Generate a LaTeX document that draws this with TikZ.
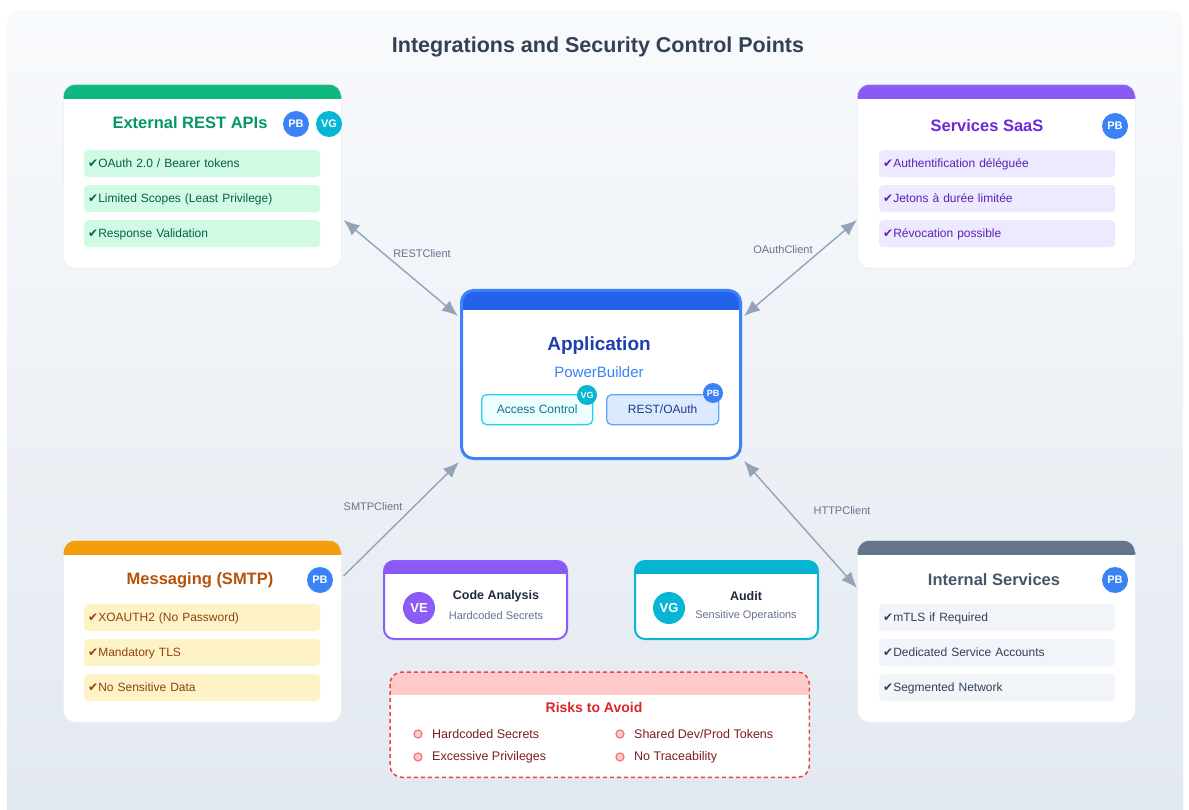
\documentclass[tikz,border=0pt]{standalone}
\usepackage{fontspec}
\setmainfont{Liberation Sans}
\newfontfamily\sym{DejaVu Sans}
\usetikzlibrary{arrows.meta,calc}

\newcommand\fsz[1]{\fontsize{#1}{#1}\selectfont}
\newcommand\tick{{\sym\fsz{12}✔}}

% palette
\definecolor{bgtop}{HTML}{F8FAFC}
\definecolor{bgbot}{HTML}{E2E8F0}
\definecolor{titlec}{HTML}{334155}
\definecolor{linkc}{HTML}{94A3B8}
\definecolor{linklbl}{HTML}{64748B}
\definecolor{pbblue}{HTML}{3B82F6}
\definecolor{vgcyan}{HTML}{06B6D4}
\definecolor{vepurple}{HTML}{8B5CF6}
\definecolor{cardrim}{HTML}{E8EDF3}
% green card
\definecolor{grA}{HTML}{10B981}
\definecolor{grB}{HTML}{059669}
\definecolor{grT}{HTML}{059669}
\definecolor{grF}{HTML}{D1FAE5}
\definecolor{grX}{HTML}{065F46}
% purple card
\definecolor{puA}{HTML}{8B5CF6}
\definecolor{puB}{HTML}{6D28D9}
\definecolor{puT}{HTML}{6D28D9}
\definecolor{puF}{HTML}{EDE9FE}
\definecolor{puX}{HTML}{5B21B6}
% orange card
\definecolor{orA}{HTML}{F59E0B}
\definecolor{orB}{HTML}{D97706}
\definecolor{orT}{HTML}{B45309}
\definecolor{orF}{HTML}{FEF3C7}
\definecolor{orX}{HTML}{92400E}
% slate card
\definecolor{slA}{HTML}{64748B}
\definecolor{slB}{HTML}{64748B}
\definecolor{slT}{HTML}{475569}
\definecolor{slF}{HTML}{F1F5F9}
\definecolor{slX}{HTML}{334155}
% application
\definecolor{apA}{HTML}{2563EB}
\definecolor{apB}{HTML}{1D4ED8}
\definecolor{apT}{HTML}{1E40AF}
\definecolor{accF}{HTML}{ECFEFF}
\definecolor{accD}{HTML}{22D3EE}
\definecolor{accT}{HTML}{0E7490}
\definecolor{roF}{HTML}{DBEAFE}
\definecolor{roD}{HTML}{60A5FA}
\definecolor{roT}{HTML}{1E3A8A}
% small tool cards
\definecolor{cyA}{HTML}{06B6D4}
\definecolor{cyB}{HTML}{0891B2}
\definecolor{vpA}{HTML}{8B5CF6}
\definecolor{vpB}{HTML}{7C3AED}
\definecolor{darkT}{HTML}{1E293B}
% risks
\definecolor{rkBorder}{HTML}{EF4444}
\definecolor{rkHead}{HTML}{FECACA}
\definecolor{rkT}{HTML}{DC2626}
\definecolor{rkX}{HTML}{7F1D1D}
\definecolor{rkDotF}{HTML}{FECACA}
\definecolor{rkDotD}{HTML}{F87171}

\begin{document}
\begin{tikzpicture}[x=1pt,y=-1pt,
  card/.style n args={3}{anchor=north west, fill=white, draw=cardrim, line width=0.6pt, rounded corners=12pt,
    minimum width=278pt, minimum height=#3, inner sep=0pt,
    path picture={\shade[sharp corners, top color=#1, bottom color=#2]
      (path picture bounding box.north west) rectangle ([yshift=-14pt]path picture bounding box.north east);}},
  cardtitle/.style={font=\fsz{16.5}\bfseries, text=#1},
  item/.style 2 args={anchor=north west, fill=#1, text=#2, rounded corners=4pt,
    minimum height=27pt, text width=228pt, inner xsep=4pt, inner ysep=0pt, align=left,
    text depth=1.5pt, font=\fsz{12}},
  badge/.style={circle, fill=#1, text=white, minimum size=26pt, inner sep=0pt, font=\fsz{11}\bfseries},
  minibadge/.style={circle, fill=#1, text=white, minimum size=20pt, inner sep=0pt, font=\fsz{9}\bfseries},
  link/.style={draw=linkc, line width=1.4pt},
  tip/.tip={Latex[length=16pt,width=13pt]},
  linklabel/.style={font=\fsz{11}, text=linklbl},
  tool/.style n args={3}{anchor=north west, fill=white, draw=#1, line width=2pt, rounded corners=10pt,
    minimum width=183pt, minimum height=78pt, inner sep=0pt,
    path picture={\shade[sharp corners, top color=#2, bottom color=#3]
      (path picture bounding box.north west) rectangle ([yshift=-12pt]path picture bounding box.north east);}},
  bigbadge/.style={circle, fill=#1, text=white, minimum size=32pt, inner sep=0pt, font=\fsz{13}\bfseries},
  riskdot/.style={circle, fill=rkDotF, draw=rkDotD, line width=1.2pt, minimum size=8pt, inner sep=0pt},
  risktext/.style={anchor=west, text=rkX, font=\fsz{12.5}, inner sep=0pt},
]
\useasboundingbox (0,0) rectangle (1189,810);

% backdrop panel
\shade[top color=bgtop, bottom color=bgbot, rounded corners=14pt] (7,10) rectangle (1183,840);

% title
\node[font=\fsz{21.5}\bfseries, text=titlec] (title) at (598,47) {Integrations and Security Control Points};

% ---------------- External REST APIs
\node[card={grA}{grB}{184pt}] (rest) at (63,84) {};
\node[cardtitle=grT] (restT) at (190,123) {External REST APIs};
\node[badge=pbblue] (restPB) at (296,124) {PB};
\node[badge=vgcyan] (restVG) at (329,124) {VG};
\node[item={grF}{grX}] (rest1) at (84,150) {\tick OAuth 2.0 / Bearer tokens};
\node[item={grF}{grX}] (rest2) at (84,185) {\tick Limited Scopes (Least Privilege)};
\node[item={grF}{grX}] (rest3) at (84,220) {\tick Response Validation};

% ---------------- Services SaaS
\node[card={puA}{puB}{184pt}] (saas) at (857,84) {};
\node[cardtitle=puT] (saasT) at (987,126) {Services SaaS};
\node[badge=pbblue] (saasPB) at (1115,126) {PB};
\node[item={puF}{puX}] (saas1) at (879,150) {\tick Authentification déléguée};
\node[item={puF}{puX}] (saas2) at (879,185) {\tick Jetons à durée limitée};
\node[item={puF}{puX}] (saas3) at (879,220) {\tick Révocation possible};

% ---------------- Messaging (SMTP)
\node[card={orA}{orB}{182pt}] (smtp) at (63,540) {};
\node[cardtitle=orT] (smtpT) at (200,580) {Messaging (SMTP)};
\node[badge=pbblue] (smtpPB) at (320,580) {PB};
\node[item={orF}{orX}] (smtp1) at (84,604) {\tick XOAUTH2 (No Password)};
\node[item={orF}{orX}] (smtp2) at (84,639) {\tick Mandatory TLS};
\node[item={orF}{orX}] (smtp3) at (84,674) {\tick No Sensitive Data};

% ---------------- Internal Services
\node[card={slA}{slB}{182pt}] (intl) at (857,540) {};
\node[cardtitle=slT] (intlT) at (994,580) {Internal Services};
\node[badge=pbblue] (intlPB) at (1115,580) {PB};
\node[item={slF}{slX}] (intl1) at (879,604) {\tick mTLS if Required};
\node[item={slF}{slX}] (intl2) at (879,639) {\tick Dedicated Service Accounts};
\node[item={slF}{slX}] (intl3) at (879,674) {\tick Segmented Network};

% ---------------- Application (centre)
\node[anchor=north west, fill=white, draw=pbblue, line width=3pt, rounded corners=12pt,
  minimum width=279pt, minimum height=168pt, inner sep=0pt,
  path picture={\shade[sharp corners, top color=apA, bottom color=apB]
    (path picture bounding box.north west) rectangle ([yshift=-19pt]path picture bounding box.north east);}]
  (app) at (460,289) {};
\node[font=\fsz{19}\bfseries, text=apT] (appT) at (599,346) {Application};
\node[font=\fsz{15}, text=pbblue] (appS) at (599,372) {PowerBuilder};
\node[anchor=north west, fill=accF, draw=accD, line width=1.3pt, rounded corners=5pt,
  minimum width=111pt, minimum height=30pt, inner sep=0pt, text=accT, font=\fsz{12}]
  (acc) at (481,394) {Access Control};
\node[minibadge=vgcyan] (accVG) at (587,395) {VG};
\node[anchor=north west, fill=roF, draw=roD, line width=1.3pt, rounded corners=5pt,
  minimum width=112pt, minimum height=30pt, inner sep=0pt, text=roT, font=\fsz{12}]
  (ro) at (606,394) {REST/OAuth};
\node[minibadge=pbblue] (roPB) at (713,393) {PB};

% ---------------- tool cards
\node[tool={vepurple}{vpA}{vpB}] (code) at (383,560) {};
\node[bigbadge=vepurple] (codeB) at (419,608) {VE};
\node[font=\fsz{12.5}\bfseries, text=darkT] (codeT) at (496,596) {Code Analysis};
\node[font=\fsz{11}, text=linklbl] (codeS) at (496,616) {Hardcoded Secrets};

\node[tool={vgcyan}{cyA}{cyB}] (audit) at (634,560) {};
\node[bigbadge=vgcyan] (auditB) at (669,608) {VG};
\node[font=\fsz{12.5}\bfseries, text=darkT] (auditT) at (746,596) {Audit};
\node[font=\fsz{11}, text=linklbl] (auditS) at (746,616) {Sensitive Operations};

% ---------------- risks
\node[anchor=north west, fill=white, minimum width=419pt, minimum height=105pt, inner sep=0pt,
  rounded corners=12pt,
  path picture={\fill[sharp corners, rkHead]
    (path picture bounding box.north west) rectangle ([yshift=-23pt]path picture bounding box.north east);}]
  (risk) at (390,672) {};
\draw[rkBorder, line width=1.5pt, dash pattern=on 4pt off 3pt, rounded corners=12pt]
  (risk.north west) rectangle (risk.south east);
\node[font=\fsz{14}\bfseries, text=rkT] (riskT) at (594,707) {Risks to Avoid};
\node[riskdot] (rd1) at (418,734) {};
\node[risktext] (rt1) at (432,734) {Hardcoded Secrets};
\node[riskdot] (rd2) at (418,757) {};
\node[risktext] (rt2) at (432,757) {Excessive Privileges};
\node[riskdot] (rd3) at (620,734) {};
\node[risktext] (rt3) at (634,734) {Shared Dev/Prod Tokens};
\node[riskdot] (rd4) at (620,757) {};
\node[risktext] (rt4) at (634,757) {No Traceability};

% ---------------- connectors
\coordinate (restEnd) at ($(rest.north east)+(2,136)$);
\coordinate (appNW)  at ($(app.north west)+(-2,27)$);
\coordinate (saasEnd) at ($(saas.north west)+(0,136)$);
\coordinate (appNE)  at ($(app.north east)+(2,27)$);
\coordinate (smtpEnd) at ($(smtp.north east)+(2,36)$);
\coordinate (appSW)  at ($(app.south west)+(-1,2)$);
\coordinate (appSE)  at ($(app.south east)+(2,1)$);
\coordinate (intlEnd) at ($(intl.north west)+(0,48)$);

\draw[link, {tip}-{tip}] (restEnd) -- (appNW);
\draw[link, {tip}-{tip}] (saasEnd) -- (appNE);
\draw[link, -{tip}] (smtpEnd) -- (appSW);
\draw[link, {tip}-{tip}] (appSE) -- (intlEnd);

\node[linklabel] (lRest) at (422,254) {RESTClient};
\node[linklabel] (lOAuth) at (783,250) {OAuthClient};
\node[linklabel] (lSmtp) at (373,507) {SMTPClient};
\node[linklabel] (lHttp) at (842,511) {HTTPClient};
\end{tikzpicture}
\end{document}
